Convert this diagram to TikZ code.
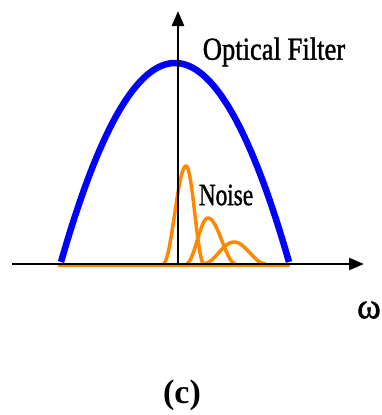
\documentclass[tikz,border=0pt]{standalone}
\usepackage{fontspec}
\setmainfont{Liberation Serif}
\newfontfamily\filterfont[FakeStretch=0.83,FakeBold=1.3]{Liberation Serif}
\newfontfamily\noisefont[FakeStretch=0.75,FakeBold=1.3]{Liberation Serif}
\newfontfamily\omegafont[FakeBold=1.3]{Liberation Serif}
\usepackage{tikz}
\usetikzlibrary{arrows.meta,calc,positioning}
\definecolor{filterblue}{RGB}{0,0,255}
\definecolor{noiseorange}{RGB}{255,136,0}
% left foot, peak, right foot, height
\newcommand{\noisepulse}[4]{\draw[pulse]
  plot[domain=#1:#2,samples=40] (\x,{264-#4*(1-cos(180*(\x-#1)/(#2-#1)))/2})
  -- plot[domain=#2:#3,samples=40] (\x,{264-#4*(1+cos(180*(\x-#2)/(#3-#2)))/2});}

\begin{document}
\begin{tikzpicture}[x=1pt,y=-1pt,
  axis/.style={line width=2.5pt,-{Triangle[length=15pt,width=12pt]}},
  pulse/.style={noiseorange,line width=3.5pt,line join=round},
  lbl/.style={inner sep=0pt,anchor=center}]
\useasboundingbox (0,0) rectangle (382,415);
% optical filter
\draw[filterblue,line width=6.5pt] plot[domain=61:289,samples=80]
  (\x,{262-199*(1-((\x-175)/114)^2)});
% noise
\draw[noiseorange,line width=2pt] (58,266) -- (290,266);
\noisepulse{163}{186}{204}{98}
\noisepulse{186}{208}{236}{46}
\noisepulse{203}{234}{266}{22}
% axes
\coordinate (o) at (178,264);
\coordinate (xstart) at (12,264);
\coordinate (xtip) at (364,264);
\coordinate (ytip) at (178,11);
\draw[axis] (xstart) -- (xtip);
\draw[axis] (o) -- (ytip);
% labels
\node[lbl,font=\filterfont\fontsize{32}{34}\selectfont] (filter) at (274,52) {Optical Filter};
\node[lbl,font=\noisefont\fontsize{31}{33}\selectfont] (noise) at (226,195) {Noise};
\node[lbl,font=\omegafont\fontsize{36}{38}\selectfont,anchor=east] (omega) at (381,310) {ω};
\node[lbl,font=\bfseries\fontsize{34}{36}\selectfont] (cap) at (182,395) {(c)};
\end{tikzpicture}
\end{document}
